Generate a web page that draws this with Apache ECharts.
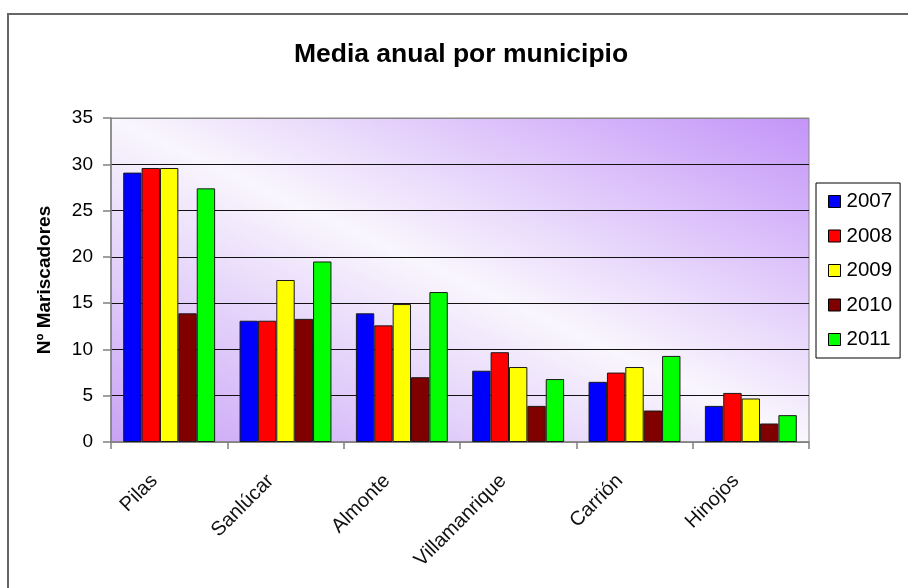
<!DOCTYPE html>
<html>
<head>
<meta charset="utf-8">
<style>
  html, body { margin: 0; padding: 0; background: #ffffff; }
  #chart { width: 908px; height: 588px; }
</style>
<script src="https://cdn.jsdelivr.net/npm/echarts@6/dist/echarts.min.js"></script>
</head>
<body>
<div id="chart"></div>
<script>
const categories = ['Pilas', 'Sanlúcar', 'Almonte', 'Villamanrique', 'Carrión', 'Hinojos'];
const years = ['2007', '2008', '2009', '2010', '2011'];
const v2007 = [29.1, 13.1, 13.9, 7.7, 6.5, 3.9];
const v2008 = [29.6, 13.1, 12.6, 9.7, 7.5, 5.3];
const v2009 = [29.6, 17.5, 14.9, 8.1, 8.1, 4.7];
const v2010 = [13.9, 13.3, 7.0, 3.9, 3.4, 2.0];
const v2011 = [27.4, 19.5, 16.2, 6.8, 9.3, 2.9];
const yTicks = [0, 5, 10, 15, 20, 25, 30, 35];

const seriesValues = [v2007, v2008, v2009, v2010, v2011];
const colors = ['#0000ff', '#ff0000', '#ffff00', '#800000', '#00ff00'];
const FONT = '"Liberation Sans", Arial, sans-serif';

const chart = echarts.init(document.getElementById('chart'), null, { renderer: 'canvas' });

const option = {
  animation: false,
  color: colors,
  textStyle: { fontFamily: FONT },
  graphic: [{
    type: 'rect',
    shape: { x: 8, y: 14, width: 1000, height: 1000 },
    style: { fill: null, stroke: '#666666', lineWidth: 2 },
    silent: true
  }],
  title: {
    text: 'Media anual por municipio',
    left: 456,
    top: 36,
    textAlign: 'center',
    textStyle: { fontFamily: FONT, fontSize: 26.5, fontWeight: 'bold', color: '#000' }
  },
  legend: {
    orient: 'vertical',
    left: 816,
    top: 183,
    padding: [8, 8, 8, 12],
    itemGap: 13.5,
    itemWidth: 12,
    itemHeight: 12,
    icon: 'rect',
    borderColor: '#000',
    borderWidth: 1,
    backgroundColor: '#fff',
    itemStyle: { borderColor: '#000', borderWidth: 1 },
    textStyle: { fontFamily: FONT, fontSize: 20.5, color: '#000', lineHeight: 20, padding: [0, 0, 0, 1] },
    data: years
  },
  grid: {
    left: 111,
    right: 99,
    top: 118,
    bottom: 146,
    show: true,
    borderColor: '#888',
    borderWidth: 1,
    backgroundColor: {
      type: 'linear',
      x: 0.3228, y: 1.3228, x2: 0.6772, y2: -0.3228,
      colorStops: [
        { offset: 0, color: '#c8a2f6' },
        { offset: 0.5, color: '#f9f6fd' },
        { offset: 1, color: '#c394f8' }
      ]
    }
  },
  xAxis: {
    type: 'category',
    data: categories,
    boundaryGap: true,
    axisLine: { show: true, lineStyle: { color: '#808080', width: 1.5 } },
    axisTick: { show: true, alignWithLabel: false, length: 7, lineStyle: { color: '#808080', width: 1.5 } },
    axisLabel: {
      interval: 0,
      rotate: 45,
      margin: 21,
      padding: [0, 21, 0, 0],
      fontFamily: FONT,
      fontSize: 20,
      color: '#111'
    },
    splitLine: { show: false }
  },
  yAxis: {
    type: 'value',
    min: 0,
    max: 35,
    interval: 5,
    name: 'Nº Mariscadores',
    nameLocation: 'middle',
    nameGap: 57,
    nameRotate: 90,
    nameTextStyle: { fontFamily: FONT, fontSize: 19, fontWeight: 'bold', color: '#000' },
    axisLine: { show: true, lineStyle: { color: '#808080', width: 1.5 } },
    axisTick: { show: true, length: 8, lineStyle: { color: '#808080', width: 1.5 } },
    axisLabel: {
      margin: 18,
      fontFamily: FONT,
      fontSize: 19,
      color: '#000',
      formatter: function (v) { return yTicks.indexOf(v) >= 0 ? String(v) : ''; }
    },
    splitLine: {
      show: true,
      lineStyle: { color: ['#888', '#111', '#111', '#111', '#111', '#111', '#111', '#888'], width: 1.2 }
    }
  },
  series: years.map(function (y, i) {
    return {
      name: y,
      type: 'bar',
      data: seriesValues[i],
      barGap: '0%',
      barCategoryGap: '21%',
      itemStyle: { color: colors[i], borderColor: '#1a1a1a', borderWidth: 1 }
    };
  })
};

chart.setOption(option);
</script>
</body>
</html>
